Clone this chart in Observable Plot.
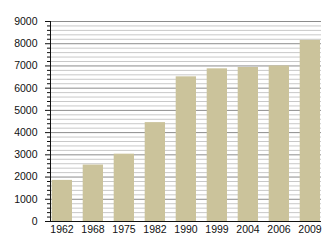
<!DOCTYPE html>
<html>
<head>
<meta charset="utf-8">
<script src="https://cdn.jsdelivr.net/npm/d3@7"></script>
<script src="https://cdn.jsdelivr.net/npm/@observablehq/plot@0.6"></script>
<style>
  html, body { margin: 0; padding: 0; background: #fff; }
  #chart svg { display: block; }
</style>
</head>
<body>
<div id="chart"></div>
<script>
const years = ["1962", "1968", "1975", "1982", "1990", "1999", "2004", "2006", "2009"];
const population = [1850, 2540, 3030, 4450, 6510, 6870, 6930, 7000, 8150];
const majorTicks = [0, 1000, 2000, 3000, 4000, 5000, 6000, 7000, 8000, 9000];
const minorTicks = d3.range(0, 9001, 200).filter(v => v % 1000 !== 0);

const data = years.map((y, i) => ({year: y, value: population[i]}));

const chart = Plot.plot({
  width: 330,
  height: 250,
  marginLeft: 50,
  marginRight: 9,
  marginTop: 21,
  marginBottom: 29,
  style: {fontFamily: "Liberation Sans, Arial, sans-serif", fontSize: "10.5px", color: "#111", background: "#fff"},
  x: {domain: years, paddingInner: 0.333, paddingOuter: 0, label: null},
  y: {domain: [0, 9000], label: null},
  marks: [
    Plot.ruleY(minorTicks, {stroke: "#c8c8c8", strokeWidth: 1}),
    Plot.ruleY(majorTicks.filter(v => v > 0), {stroke: "#8c8c8c", strokeWidth: 1}),
    Plot.barY(data, {x: "year", y: "value", fill: "#cbc39b", insetLeft: 0.7}),
    Plot.axisY({ticks: minorTicks, tickSize: 3, tickFormat: () => "", stroke: "#111"}),
    Plot.axisY({ticks: majorTicks, tickSize: 5, tickPadding: 8, tickFormat: d => String(d), fill: "#111"}),
    Plot.axisX({tickSize: 0, tickPadding: 4, fill: "#111"}),
    Plot.frame({anchor: "left", stroke: "#111"}),
    Plot.ruleY([0], {stroke: "#111"})
  ]
});
document.getElementById("chart").appendChild(chart);
</script>
</body>
</html>
